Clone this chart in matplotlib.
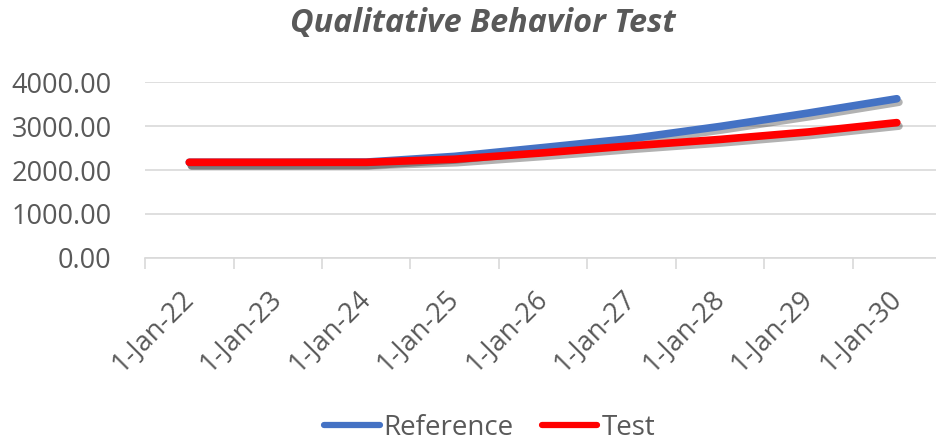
import numpy as np
import matplotlib.pyplot as plt
import matplotlib.patheffects as pe
from matplotlib.lines import Line2D

dates = ["1-Jan-22", "1-Jan-23", "1-Jan-24", "1-Jan-25", "1-Jan-26",
         "1-Jan-27", "1-Jan-28", "1-Jan-29", "1-Jan-30"]
reference = [2175, 2175, 2180, 2310, 2510, 2715, 2990, 3295, 3620]
test = [2175, 2175, 2175, 2245, 2390, 2550, 2695, 2865, 3077]

plt.rcParams['font.family'] = ['Open Sans', 'DejaVu Sans']
grey = "#595959"

fig = plt.figure(figsize=(9.36, 4.41), dpi=100)
ax = fig.add_axes([0.155, 0.415, 0.8504, 0.399])

x = np.arange(len(dates))
shadow = [pe.SimpleLineShadow(offset=(1.5, -2.5), shadow_color="black", alpha=0.3),
          pe.Normal()]
ax.plot(x, reference, color="#4472C4", lw=5.5, solid_capstyle="round",
        solid_joinstyle="round", path_effects=shadow, zorder=3)
ax.plot(x, test, color="#FF0000", lw=5.5, solid_capstyle="round",
        solid_joinstyle="round", path_effects=shadow, zorder=4)

ax.set_xlim(-0.5, len(dates) - 0.5)
ax.set_ylim(0, 4000)
ax.set_yticks([0, 1000, 2000, 3000, 4000])
ax.set_yticklabels(["%.2f" % v for v in [0, 1000, 2000, 3000, 4000]],
                   fontsize=19.5, color=grey)
ax.tick_params(axis="y", length=0, pad=24)
ax.grid(axis="y", color="#D9D9D9", lw=1.2)
ax.set_axisbelow(True)

# ticks between categories, labels at category centres
ax.set_xticks(np.arange(-0.5, len(dates) + 0.5, 1.0))
ax.set_xticklabels([])
ax.set_xticks(x, minor=True)
ax.set_xticklabels(dates, minor=True, rotation=45, ha="right", va="center",
                   rotation_mode="anchor", fontsize=19.5, color=grey)
ax.tick_params(axis="x", which="major", length=8, width=1.2, color="#D9D9D9", direction="out")
ax.tick_params(axis="x", which="minor", length=0, pad=26)

for s in ["top", "right", "left"]:
    ax.spines[s].set_visible(False)
ax.spines["bottom"].set_color("#D9D9D9")
ax.spines["bottom"].set_linewidth(1.2)

fig.text(0.516, 0.947, "Qualitative Behavior Test", ha="center", va="center",
         fontsize=23.3, fontweight="bold", fontstyle="italic", color=grey)

handles = [Line2D([], [], color="#4472C4", lw=4.5, solid_capstyle="round"),
           Line2D([], [], color="#FF0000", lw=4.5, solid_capstyle="round")]
fig.legend(handles, ["Reference", "Test"], loc="center", bbox_to_anchor=(0.523, 0.03),
           ncol=2, frameon=False, fontsize=20, labelcolor=grey,
           handlelength=2.0, handletextpad=0.15, columnspacing=1.0)

plt.savefig("out.png")
